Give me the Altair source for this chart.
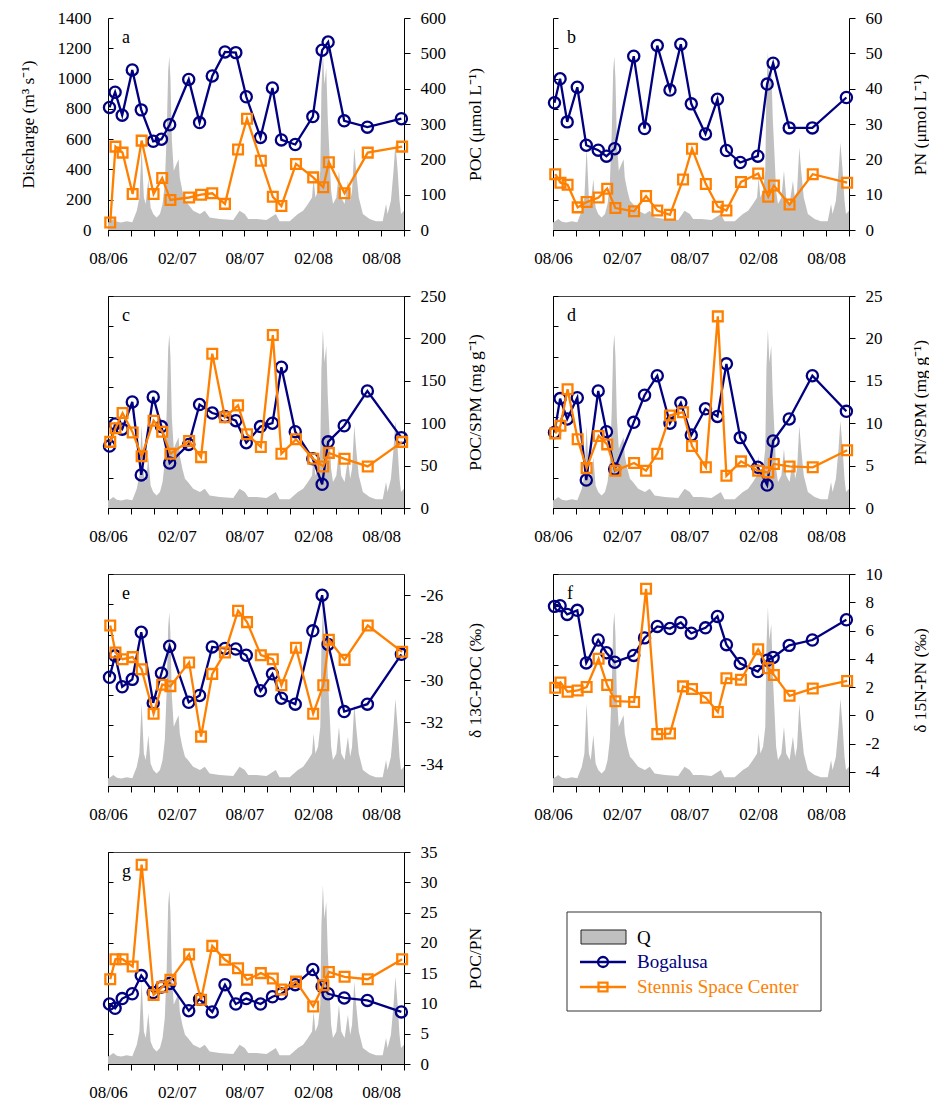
import altair as alt
import pandas as pd

FONT = "Liberation Serif"
NAVY = "#000080"
ORANGE = "#ff8000"
GRAY = "#c0c0c0"

# ---------------- discharge (Q, m3/s) ----------------
q_dates = ["2006-08-01", "2006-08-08", "2006-08-15", "2006-08-25", "2006-09-05", "2006-09-20",
           "2006-10-05", "2006-10-17", "2006-10-24", "2006-10-30", "2006-11-05", "2006-11-10",
           "2006-11-17", "2006-11-23", "2006-11-30", "2006-12-09", "2006-12-18", "2006-12-25",
           "2006-12-31", "2007-01-05", "2007-01-09", "2007-01-12", "2007-01-15", "2007-01-19",
           "2007-01-24", "2007-01-31", "2007-02-06", "2007-02-09", "2007-02-16", "2007-02-23",
           "2007-03-03", "2007-03-17", "2007-04-04", "2007-04-17", "2007-04-30", "2007-05-27",
           "2007-07-02", "2007-07-19", "2007-08-02", "2007-08-11", "2007-09-02", "2007-09-29",
           "2007-10-24", "2007-11-03", "2007-11-30", "2007-12-22", "2008-01-05", "2008-01-18",
           "2008-01-29", "2008-02-02", "2008-02-07", "2008-02-14", "2008-02-20", "2008-02-23",
           "2008-02-27", "2008-03-02", "2008-03-07", "2008-03-11", "2008-03-16", "2008-03-20",
           "2008-03-25", "2008-04-03", "2008-04-10", "2008-04-16", "2008-04-25", "2008-05-04",
           "2008-05-10", "2008-05-15", "2008-05-21", "2008-05-26", "2008-06-02", "2008-06-13",
           "2008-07-01", "2008-07-18", "2008-08-05", "2008-08-14", "2008-08-18", "2008-08-27",
           "2008-09-03", "2008-09-08", "2008-09-14", "2008-09-19", "2008-09-23", "2008-10-01"]
q_values = [50, 60, 72, 55, 50, 57,
            52, 127, 215, 545, 215, 171,
            336, 149, 105, 83, 105, 171,
            303, 632, 1049, 1148, 1005, 588,
            391, 434, 467, 347, 259, 193,
            171, 127, 105, 127, 83, 72,
            66, 127, 105, 72, 72, 66,
            105, 57, 57, 105, 127, 171,
            215, 347, 215, 259, 391, 917,
            1180, 961, 1071, 742, 478, 259,
            171, 215, 391, 215, 171, 325,
            193, 259, 544, 391, 215, 105,
            72, 57, 57, 171, 105, 193,
            391, 577, 391, 193, 105, 127]

# ---------------- sampling dates ----------------
bog_dates = ["2006-08-05", "2006-08-20", "2006-09-08", "2006-10-05", "2006-10-29", "2006-11-30",
             "2006-12-22", "2007-01-13", "2007-03-05", "2007-04-03", "2007-05-07", "2007-06-10",
             "2007-07-09", "2007-08-06", "2007-09-13", "2007-10-15", "2007-11-08", "2007-12-15",
             "2008-01-31", "2008-02-25", "2008-03-12", "2008-04-24", "2008-06-25", "2008-09-24"]
stn_dates = ["2006-08-07", "2006-08-21", "2006-09-09", "2006-10-06", "2006-10-30", "2006-12-01",
             "2006-12-24", "2007-01-15", "2007-03-06", "2007-04-07", "2007-05-07", "2007-06-10",
             "2007-07-15", "2007-08-08", "2007-09-14", "2007-10-16", "2007-11-08", "2007-12-17",
             "2008-02-01", "2008-02-28", "2008-03-14", "2008-04-25", "2008-06-26", "2008-09-26"]

# ---------------- Bogalusa ----------------
bog_poc = [347, 390, 325, 453, 340, 251, 257, 298, 426, 304, 436, 504,
           502, 377, 262, 402, 255, 242, 321, 509, 532, 309, 291, 315]
bog_pn = [36.0, 42.8, 30.6, 40.4, 24.0, 22.6, 20.9, 23.0, 49.2, 28.7, 52.2, 39.6,
          52.6, 35.7, 27.2, 37.0, 22.5, 19.1, 20.9, 41.3, 47.2, 28.9, 28.9, 37.5]
bog_poc_spm = [73, 99, 93, 125, 39, 131, 96, 53, 75, 122, 112, 108,
               103, 77, 96, 100, 166, 90, 58, 28, 78, 97, 138, 83]
bog_pn_spm = [8.9, 12.9, 10.5, 13.0, 3.3, 13.8, 9.0, 4.6, 10.1, 13.3, 15.6, 10.0,
              12.4, 8.6, 11.7, 10.8, 17.0, 8.3, 4.8, 2.7, 7.9, 10.5, 15.6, 11.4]
bog_d13c = [-29.87, -28.86, -30.32, -29.97, -27.75, -31.08, -29.68, -28.41, -31.05, -30.73, -28.44, -28.51,
            -28.54, -28.83, -30.51, -29.71, -30.86, -31.14, -27.68, -26.0, -28.32, -31.49, -31.14, -28.79]
bog_d15n = [7.71, 7.76, 7.14, 7.43, 3.71, 5.33, 4.43, 3.76, 4.24, 5.48, 6.29, 6.14,
            6.57, 5.81, 6.19, 7.0, 5.0, 3.67, 3.10, 3.90, 4.10, 4.95, 5.33, 6.76]
bog_cn = [9.9, 9.2, 10.8, 11.6, 14.6, 11.8, 12.7, 13.3, 8.8, 10.7, 8.6, 13.1,
          9.9, 10.8, 9.9, 11.1, 11.6, 13.1, 15.6, 12.8, 11.6, 10.9, 10.5, 8.6]

# ---------------- Stennis Space Center ----------------
stn_poc = [21, 236, 219, 102, 253, 102, 147, 85, 92, 100, 104, 74,
           228, 315, 196, 94, 68, 187, 149, 121, 192, 104, 219, 236]
stn_pn = [15.8, 13.4, 12.8, 6.4, 7.9, 9.2, 11.7, 6.2, 5.3, 9.6, 5.5, 4.3,
          14.3, 23.0, 13.0, 6.6, 5.5, 13.6, 16.0, 9.4, 12.6, 7.2, 15.8, 13.4]
stn_poc_spm = [78, 94, 112, 89, 61, 103, 90, 64, 79, 60, 182, 107,
               121, 87, 72, 204, 64, 81, 58, 49, 65, 58, 49, 78]
stn_pn_spm = [8.8, 9.7, 14.0, 8.1, 4.7, 8.5, 7.5, 4.4, 5.3, 4.4, 6.4, 10.9,
              11.3, 7.3, 4.8, 22.6, 3.8, 5.5, 4.4, 4.2, 5.2, 4.9, 4.8, 6.8]
stn_d13c = [-27.43, -28.70, -29.02, -28.92, -29.49, -31.59, -30.22, -30.29, -29.17, -32.67, -29.71, -28.70,
            -26.73, -27.27, -28.83, -29.02, -30.25, -28.48, -31.59, -30.25, -28.10, -29.05, -27.43, -28.67]
stn_d15n = [1.95, 2.33, 1.67, 1.76, 2.0, 4.0, 2.14, 1.0, 0.95, 8.95, -1.33, -1.29,
            2.05, 1.86, 1.24, 0.24, 2.62, 2.52, 4.67, 3.33, 2.86, 1.38, 1.90, 2.43]
stn_cn = [14.0, 17.3, 17.3, 16.1, 32.9, 11.4, 12.7, 13.9, 18.1, 10.6, 19.5, 17.2,
          15.8, 13.9, 15.0, 14.1, 12.3, 13.6, 9.5, 13.0, 15.2, 14.4, 14.0, 17.3]

W, H = 296, 212

q_df = pd.DataFrame(list(zip(q_dates, q_values)), columns=["date", "q"])

x_domain = [alt.DateTime(year=2006, month=8, date=1, utc=True),
            alt.DateTime(year=2008, month=10, date=1, utc=True)]
tick_months = [(2006, 8), (2006, 10), (2006, 12), (2007, 2), (2007, 4), (2007, 6), (2007, 8),
               (2007, 10), (2007, 12), (2008, 2), (2008, 4), (2008, 6), (2008, 8), (2008, 10)]
tick_vals = [alt.DateTime(year=y, month=m, date=1, utc=True) for y, m in tick_months]

x_axis = alt.Axis(values=tick_vals, title=None, grid=False, tickSize=6, labelPadding=14,
                  labelOverlap=False, labelFlush=False,
                  labelExpr="(utcmonth(datum.value) == 7 || utcmonth(datum.value) == 1) ? utcFormat(datum.value, '%m/%y') : ''")
x_enc = alt.X("date:T", scale=alt.Scale(type="utc", domain=x_domain), axis=x_axis)

q_ticks = [0, 200, 400, 600, 800, 1000, 1200, 1400]


def left_axis(show):
    if show:
        return alt.Axis(orient="left", values=q_ticks, labelExpr="datum.value + ''",
                        tickSize=alt.ExprRef(expr="-5"), labelPadding=22, minExtent=0,
                        title="Discharge (m³ s⁻¹)", titleX=-80, titleY=H / 2,
                        titleAngle=270, titleAlign="center", titleBaseline="middle", grid=False)
    return alt.Axis(orient="left", values=q_ticks, minExtent=0,
                    tickSize=alt.ExprRef(expr="-5"), labels=False, title=None, grid=False)


def right_axis(title, values):
    return alt.Axis(orient="right", values=values, tickSize=6, labelPadding=10, minExtent=0,
                    labelExpr="datum.value + ''", title=title, titleX=71, titleY=H / 2,
                    titleAngle=270, titleAlign="center", titleBaseline="middle", grid=False)


dummy = pd.DataFrame({"k": [0]})


def panel(letter, bog_vals, stn_vals, domain, values, title, show_left, boxed):
    area = alt.Chart(q_df).mark_area(color=GRAY, opacity=1, interpolate="linear").encode(
        x=x_enc,
        y=alt.Y("q:Q", scale=alt.Scale(domain=[0, 1400]), axis=left_axis(show_left)),
    )
    ax = right_axis(title, values)
    ysc = alt.Scale(domain=domain, nice=False, zero=False)
    bdf = pd.DataFrame(list(zip(bog_dates, bog_vals)), columns=["date", "v"])
    sdf = pd.DataFrame(list(zip(stn_dates, stn_vals)), columns=["date", "v"])
    y_enc = alt.Y("v:Q", scale=ysc, axis=ax)
    bl = alt.Chart(bdf).mark_line(color=NAVY, strokeWidth=2.3).encode(x=x_enc, y=y_enc)
    bp = alt.Chart(bdf).mark_point(shape="circle", filled=False, color=NAVY, size=125,
                                   strokeWidth=2.3, opacity=1).encode(x=x_enc, y=y_enc)
    sl = alt.Chart(sdf).mark_line(color=ORANGE, strokeWidth=2.3).encode(x=x_enc, y=y_enc)
    sp = alt.Chart(sdf).mark_point(shape="square", filled=False, color=ORANGE, size=95,
                                   strokeWidth=2.3, opacity=1).encode(x=x_enc, y=y_enc)
    lab = alt.Chart(dummy).mark_text(text=letter, align="left", baseline="alphabetic",
                                     font=FONT, fontSize=18, color="black").encode(
        x=alt.value(14), y=alt.value(25))
    inner = alt.layer(bl, bp, sl, sp, lab)
    ch = alt.layer(area, inner).resolve_scale(y="independent").properties(width=W, height=H)
    if boxed:
        ch = ch.properties(view=alt.ViewBackground(stroke="#444", strokeWidth=1))
    else:
        ch = ch.properties(view=alt.ViewBackground(stroke="transparent"))
    return ch


pa = panel("a", bog_poc, stn_poc, [0, 600], [0, 100, 200, 300, 400, 500, 600],
           "POC (μmol L⁻¹)", True, False)
pb = panel("b", bog_pn, stn_pn, [0, 60], [0, 10, 20, 30, 40, 50, 60],
           "PN (μmol L⁻¹)", False, False)
pc = panel("c", bog_poc_spm, stn_poc_spm, [0, 250], [0, 50, 100, 150, 200, 250],
           "POC/SPM (mg g⁻¹)", False, True)
pd_ = panel("d", bog_pn_spm, stn_pn_spm, [0, 25], [0, 5, 10, 15, 20, 25],
            "PN/SPM (mg g⁻¹)", False, True)
pe = panel("e", bog_d13c, stn_d13c, [-35, -25], [-34, -32, -30, -28, -26],
           "δ 13C-POC (‰)", False, True)
pf = panel("f", bog_d15n, stn_d15n, [-5, 10], [-4, -2, 0, 2, 4, 6, 8, 10],
           "δ 15N-PN (‰)", False, True)
pg = panel("g", bog_cn, stn_cn, [0, 35], [0, 5, 10, 15, 20, 25, 30, 35],
           "POC/PN", False, True)

# ---------------- legend panel ----------------
legend_names = ["Q", "Bogalusa", "Stennis Space Center"]
legend_colors = ["black", NAVY, ORANGE]

box = alt.Chart(dummy).mark_rect(fill="white", stroke="#333", strokeWidth=1).encode(
    x=alt.value(14), x2=alt.value(268), y=alt.value(60), y2=alt.value(159))
qrect = alt.Chart(dummy).mark_rect(fill=GRAY, stroke="#222", strokeWidth=1).encode(
    x=alt.value(28), x2=alt.value(73), y=alt.value(78), y2=alt.value(92))
brule = alt.Chart(dummy).mark_rule(color=NAVY, strokeWidth=2.3).encode(
    x=alt.value(27), x2=alt.value(73), y=alt.value(110))
bpt = alt.Chart(dummy).mark_point(shape="circle", filled=False, color=NAVY, size=100,
                                  strokeWidth=2.3, opacity=1).encode(x=alt.value(50), y=alt.value(110))
srule = alt.Chart(dummy).mark_rule(color=ORANGE, strokeWidth=2.3).encode(
    x=alt.value(27), x2=alt.value(73), y=alt.value(135))
spt = alt.Chart(dummy).mark_point(shape="square", filled=False, color=ORANGE, size=80,
                                  strokeWidth=2.3, opacity=1).encode(x=alt.value(50), y=alt.value(135))
texts = []
for name, col, yy in zip(legend_names, legend_colors, [92, 116, 141]):
    texts.append(alt.Chart(dummy).mark_text(text=name, align="left", baseline="alphabetic",
                                            font=FONT, fontSize=19, color=col).encode(
        x=alt.value(84), y=alt.value(yy)))
legend = alt.layer(box, qrect, brule, bpt, srule, spt, *texts).properties(
    width=W, height=H, view=alt.ViewBackground(stroke="transparent"))

chart = alt.concat(pa, pb, pc, pd_, pe, pf, pg, legend, columns=2, bounds="flush",
                   spacing={"row": 66, "column": 149}).properties(
    padding={"left": 18, "top": 8, "right": 0, "bottom": 0},
    background="white",
).configure(font=FONT).configure_axis(
    labelFont=FONT, titleFont=FONT, labelFontSize=17, titleFontSize=17.5,
    titleFontWeight="normal", labelColor="black", titleColor="black",
    domainColor="black", tickColor="black", domainWidth=1, tickWidth=1,
).configure_view(stroke="#444")

chart.save("out.html", embed_options={"renderer": "svg", "actions": False})
